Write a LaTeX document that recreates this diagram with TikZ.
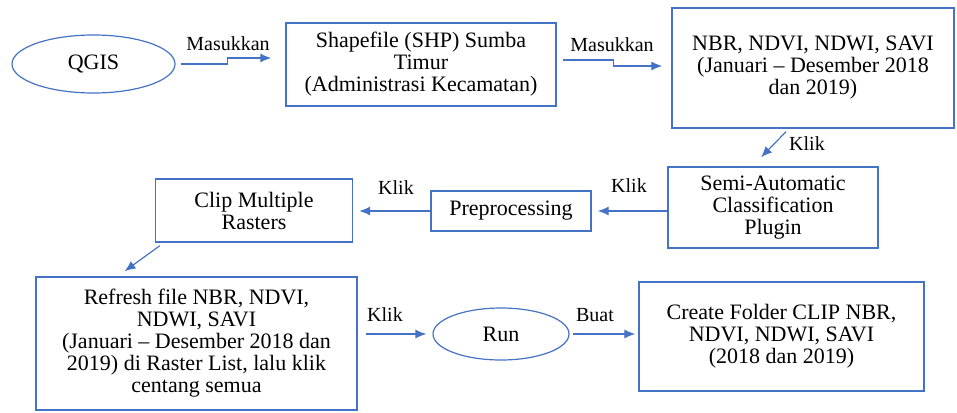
\documentclass[tikz,border=0pt]{standalone}
\usepackage{fontspec}
\setmainfont{Liberation Serif}
\usetikzlibrary{arrows.meta,shapes.geometric}

\definecolor{garis}{HTML}{4472C4}

\tikzset{
  kotak/.style={draw=garis, line width=1.4pt, rectangle, inner sep=0pt, align=center,
    font=\fontsize{22}{22}\selectfont},
  oval/.style={draw=garis, line width=1.2pt, ellipse, inner sep=0pt,
    font=\fontsize{22}{22}\selectfont},
  panah/.style={draw=garis, line width=1.2pt, -{Latex[length=11pt,width=9pt]}},
  ket/.style={font=\fontsize{20}{20}\selectfont, inner sep=0pt}
}

\begin{document}
\begin{tikzpicture}[x=1pt,y=-1pt]
  \useasboundingbox (0,0) rectangle (957,412);

  % baris atas
  \node[oval, minimum width=163pt, minimum height=58pt] (qgis) at (93.5,64) {QGIS};
  \node[kotak, minimum width=270pt, minimum height=83pt] (shp) at (421,64.5)
    {Shapefile (SHP) Sumba\\Timur\\(Administrasi Kecamatan)};
  \node[kotak, minimum width=282pt, minimum height=120pt] (nbr) at (813,68)
    {NBR, NDVI, NDWI, SAVI\\(Januari -- Desember 2018\\dan 2019)};

  % baris tengah
  \node[kotak, minimum width=210pt, minimum height=81pt] (semi) at (773,207.5)
    {Semi-Automatic\\Classification\\Plugin};
  \node[kotak, minimum width=160pt, minimum height=40pt] (prep) at (511,211) {Preprocessing};
  \node[kotak, minimum width=197pt, minimum height=63pt] (clip) at (254,210.5)
    {Clip Multiple\\Rasters};

  % baris bawah
  \node[kotak, minimum width=321pt, minimum height=133pt] (refresh) at (196.5,343.5)
    {Refresh file NBR, NDVI,\\NDWI, SAVI\\(Januari -- Desember 2018 dan\\2019) di Raster List, lalu klik\\centang semua};
  \node[oval, minimum width=136pt, minimum height=52pt] (run) at (501,334) {Run};
  \node[kotak, minimum width=285pt, minimum height=109pt] (create) at (781.5,336.5)
    {Create Folder CLIP NBR,\\NDVI, NDWI, SAVI\\(2018 dan 2019)};

  % panah
  \draw[panah] ([xshift=5pt]qgis.east) -- ++(47,0) |- ([xshift=-14pt,yshift=6.5pt]shp.west);
  \draw[panah] ([xshift=6pt,yshift=4.5pt]shp.east) -- ++(51,0) |- ([xshift=-9pt,yshift=2pt]nbr.west);
  \draw[panah] ([xshift=-27pt,yshift=-3pt]nbr.south) -- ([xshift=-12pt,yshift=9pt]semi.north);
  \draw[panah] (semi.west |- prep.east) -- ([xshift=6pt]prep.east);
  \draw[panah] (prep.west) -- ([xshift=6pt]clip.east |- prep.west);
  \draw[panah] ([xshift=5pt,yshift=-3pt]clip.south west) -- ([xshift=-72pt,yshift=5pt]refresh.north);
  \draw[panah] ([xshift=8pt]refresh.east |- run.west) -- ([xshift=-6pt]run.west);
  \draw[panah] ([xshift=3pt]run.east) -- ([xshift=-3pt]create.west |- run.east);

  % keterangan
  \node[ket] (k1) at (228,44) {Masukkan};
  \node[ket] (k2) at (612,45) {Masukkan};
  \node[ket] (k3) at (807,144) {Klik};
  \node[ket] (k4) at (629,186) {Klik};
  \node[ket] (k5) at (396,188) {Klik};
  \node[ket] (k6) at (385,315) {Klik};
  \node[ket] (k7) at (595,315) {Buat};
\end{tikzpicture}
\end{document}
